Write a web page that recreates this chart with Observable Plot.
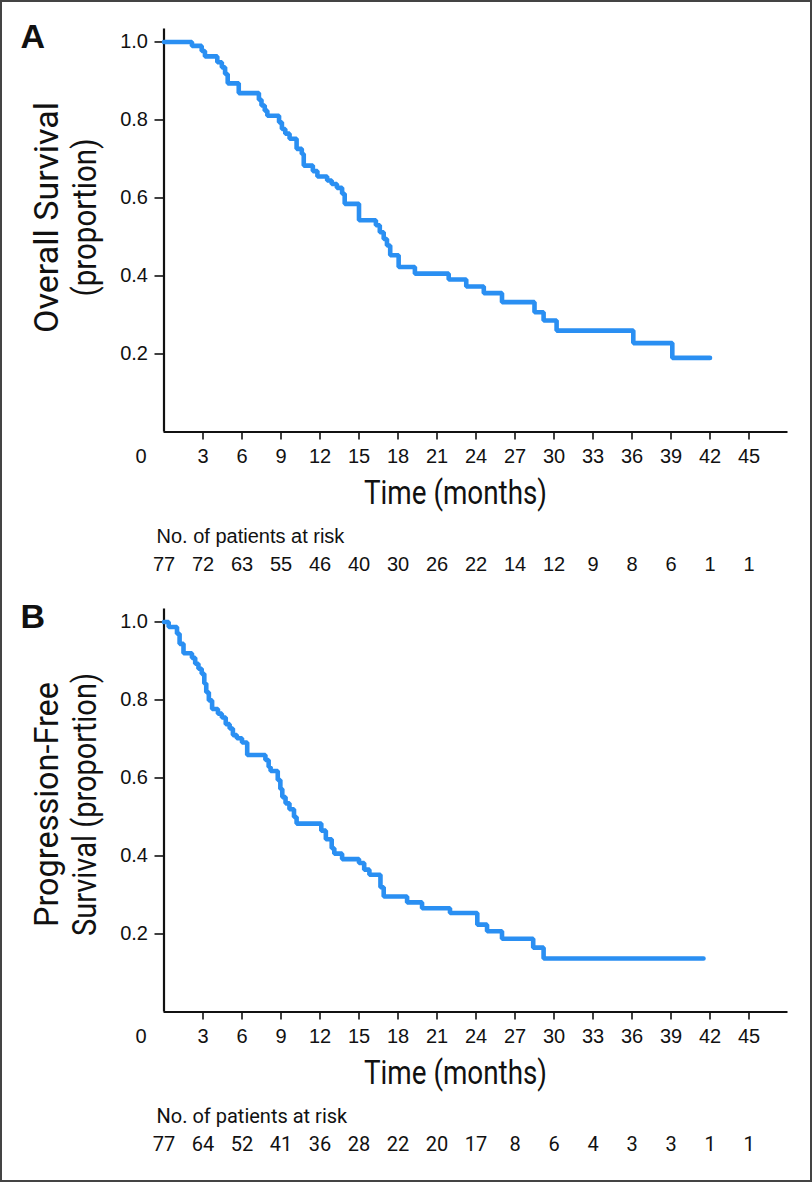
<!DOCTYPE html>
<html>
<head>
<meta charset="utf-8">
<script src="https://cdn.jsdelivr.net/npm/d3@7"></script>
<script src="https://cdn.jsdelivr.net/npm/@observablehq/plot@0.6"></script>
<style>
  html, body { margin: 0; padding: 0; background: #fff; }
  #wrap { position: relative; width: 812px; height: 1182px; background: #fff; overflow: hidden; }
  #frame { position: absolute; left: 0; top: 0; width: 812px; height: 1182px; box-sizing: border-box; border: 2px solid #444; pointer-events: none; }
  .panel { position: absolute; left: 0; }
</style>
</head>
<body>
<div id="wrap">
  <div id="panelA" class="panel" style="top:0px"></div>
  <div id="panelB" class="panel" style="top:580px"></div>
  <div id="frame"></div>
</div>
<script>
// ---- Data ----
// Panel A: Overall survival (Kaplan-Meier steps: time in months, survival after step)
const osMonths = [0, 2.15, 2.9, 3.15, 4.1, 4.45, 4.7, 4.9, 5.75, 7.3, 7.5, 7.75, 7.95, 8.85, 9.07, 9.33, 9.66, 10.2, 10.6, 10.75, 11.45, 11.8, 12.55, 12.9, 13.3, 13.7, 13.9, 15.0, 16.3, 16.6, 16.9, 17.15, 17.4, 18.05, 19.3, 21.9, 23.25, 24.6, 26.0, 28.5, 29.2, 30.2, 36.1, 39.1, 42.0];
const osSurv   = [1.0, 0.990, 0.977, 0.963, 0.948, 0.935, 0.918, 0.894, 0.869, 0.852, 0.837, 0.824, 0.811, 0.794, 0.777, 0.765, 0.752, 0.726, 0.713, 0.683, 0.669, 0.655, 0.645, 0.636, 0.626, 0.611, 0.585, 0.543, 0.530, 0.512, 0.495, 0.478, 0.453, 0.423, 0.406, 0.391, 0.373, 0.356, 0.333, 0.307, 0.286, 0.260, 0.228, 0.190, 0.190];

// Panel B: Progression-free survival
const pfsMonths = [0, 0.36, 1.0, 1.2, 1.5, 2.15, 2.4, 2.65, 2.9, 3.1, 3.25, 3.45, 3.7, 4.15, 4.45, 4.75, 5.05, 5.3, 5.6, 6.0, 6.4, 7.8, 8.05, 8.2, 8.75, 8.95, 9.1, 9.35, 9.65, 10.0, 10.2, 12.1, 12.45, 12.9, 13.1, 13.7, 15.0, 15.4, 15.8, 16.65, 16.9, 18.7, 19.85, 22.0, 24.1, 24.85, 26.0, 28.4, 29.2, 41.5];
const pfsSurv   = [1.0, 0.987, 0.970, 0.944, 0.920, 0.908, 0.893, 0.880, 0.867, 0.842, 0.820, 0.799, 0.777, 0.765, 0.755, 0.738, 0.727, 0.710, 0.702, 0.691, 0.659, 0.646, 0.628, 0.618, 0.595, 0.572, 0.551, 0.535, 0.520, 0.500, 0.483, 0.465, 0.443, 0.420, 0.406, 0.392, 0.382, 0.365, 0.352, 0.320, 0.296, 0.281, 0.266, 0.254, 0.224, 0.207, 0.188, 0.165, 0.137, 0.137];

// Number at risk
const riskMonths = [0, 3, 6, 9, 12, 15, 18, 21, 24, 27, 30, 33, 36, 39, 42, 45];
const riskOS  = [77, 72, 63, 55, 46, 40, 30, 26, 22, 14, 12, 9, 8, 6, 1, 1];
const riskPFS = [77, 64, 52, 41, 36, 28, 22, 20, 17, 8, 6, 4, 3, 3, 1, 1];

// Axis ticks and labels
const xTicks = [3, 6, 9, 12, 15, 18, 21, 24, 27, 30, 33, 36, 39, 42, 45];
const yTicks = [0.2, 0.4, 0.6, 0.8, 1.0];
const xLabel = "Time (months)";
const riskLabel = "No. of patients at risk";
const yLabelA = ["Overall Survival", "(proportion)"];
const yLabelB = ["Progression-Free", "Survival (proportion)"];

// ---- Drawing ----
const SANS = "'Liberation Sans', Arial, Helvetica, sans-serif";
const COND = "Roboto, 'Liberation Sans', sans-serif";
const BLUE = "#2a8ff2";

// condense a text element to a given rendered length (mimics a condensed typeface)
function condense(svg, content, length) {
  d3.select(svg).selectAll("text")
    .filter(function () { return this.textContent === content; })
    .attr("textLength", length)
    .attr("lengthAdjust", "spacingAndGlyphs");
}

function panel(letter, months, surv, risk, yLabel, yLens, yDy, riskFont) {
  const data = months.map((m, i) => ({month: m, surv: surv[i]}));
  const svg = Plot.plot({
    width: 812,
    height: 580,
    marginLeft: 163.5,
    marginRight: 24.5,
    marginTop: 28.5,
    marginBottom: 148.5,
    x: {domain: [0, 48]},
    y: {domain: [0, 1.0333]},
    style: {fontFamily: SANS, background: "transparent", color: "#111", overflow: "visible"},
    marks: [
      Plot.axisY(yTicks, {tickSize: 9, tickPadding: 7, fontSize: 20, tickFormat: d => d.toFixed(1), label: null, strokeWidth: 1.6}),
      Plot.axisX(xTicks, {tickSize: 8, tickPadding: 9, fontSize: 20, label: null, strokeWidth: 1.6}),
      Plot.axisX([0], {tickSize: 0, tickPadding: 17, dx: -23, fontSize: 20, label: null}),
      Plot.ruleX([0], {y1: 0, y2: 1.0333, strokeWidth: 2.2, stroke: "#111"}),
      Plot.ruleY([0], {x1: 0, x2: 48, strokeWidth: 2.2, stroke: "#111"}),
      Plot.line(data, {x: "month", y: "surv", curve: "step-after", stroke: BLUE, strokeWidth: 4.6, strokeLinejoin: "miter", strokeLinecap: "round"}),
      Plot.text([yLabel[0]], {frameAnchor: "left", textAnchor: "middle", lineAnchor: "middle", dx: -116.8, dy: yDy, rotate: -90, fontSize: 33, fontFamily: COND, fill: "#111"}),
      Plot.text([yLabel[1]], {frameAnchor: "left", textAnchor: "middle", lineAnchor: "middle", dx: -78.5, dy: yDy, rotate: -90, fontSize: 33, fontFamily: COND, fill: "#111"}),
      Plot.text([xLabel], {frameAnchor: "bottom", textAnchor: "middle", dx: -20.5, dy: 71.5, fontSize: 33, fontFamily: COND, fill: "#111"}),
      Plot.text([riskLabel], {frameAnchor: "bottom-left", dx: -7.5, dy: 110.5, textAnchor: "start", fontSize: 20, fontFamily: riskFont, fill: "#111"}),
      Plot.text(riskMonths, {x: d => d, text: (d, i) => String(risk[i]), frameAnchor: "bottom", dy: 138.5, fontSize: 20, fontFamily: riskFont, fill: "#111"}),
      Plot.text([letter], {frameAnchor: "top-left", dx: -143.5, dy: 8, textAnchor: "start", lineAnchor: "middle", fontSize: 34, fontWeight: "bold", fontFamily: SANS, fill: "#111"})
    ]
  });
  condense(svg, xLabel, 183);
  condense(svg, yLabel[0], yLens[0]);
  condense(svg, yLabel[1], yLens[1]);
  return svg;
}

document.getElementById("panelA").appendChild(panel("A", osMonths, osSurv, riskOS, yLabelA, [231, 158], -13, SANS));
document.getElementById("panelB").appendChild(panel("B", pfsMonths, pfsSurv, riskPFS, yLabelB, [245, 263], -6, COND));
</script>
</body>
</html>
